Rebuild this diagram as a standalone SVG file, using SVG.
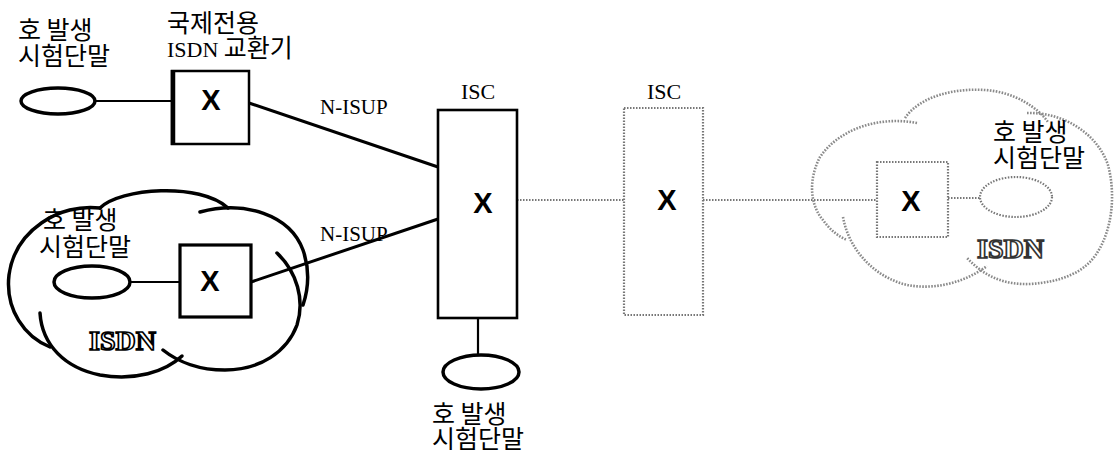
<svg xmlns="http://www.w3.org/2000/svg" width="1114" height="453" viewBox="0 0 1114 453">
<style>
.k{font-family:"Noto Sans CJK KR","Noto Sans",sans-serif;font-size:25px;fill:#000}
.s{font-family:"Liberation Serif","Times New Roman",serif;font-size:21px;fill:#000}
.x{font-family:"Liberation Sans",Arial,sans-serif;font-weight:bold;font-size:29px;text-anchor:middle;fill:#000}
.isdn{font-family:"Liberation Serif","Times New Roman",serif;font-weight:bold;font-size:28px;fill:#fff;stroke:#000;stroke-width:1.7}
.solid{fill:none;stroke:#000}
.dot{fill:none;stroke:#777;stroke-width:2.2;stroke-dasharray:1.5 1.5}
.cloud{fill:none;stroke:#000;stroke-width:3.5;stroke-linecap:round}
.dcloud{fill:none;stroke:#8a8a8a;stroke-width:2.6;stroke-dasharray:1.6 1.4;stroke-linecap:butt}
</style>
<rect width="1114" height="453" fill="#fff"/>

<g id="cloud-left">
<path class="cloud" d="M100,208 C60,203 15,230 9,275 C5,310 25,337 50,347"/>
<path class="cloud" d="M100,208 C120,188 200,182 228,208"/>
<path class="cloud" d="M200,212 C245,200 290,215 303,250 C310,270 308,290 303,305"/>
<path class="cloud" d="M277,253 C297,272 305,300 297,325 C287,352 260,370 225,370 C200,370 178,362 163,350"/>
<path class="cloud" d="M40,313 C42,345 65,368 100,375 C135,381 165,372 182,356"/>
<text class="isdn" x="89" y="350">ISDN</text>
</g>

<g id="cloud-right">
<path class="dcloud" d="M917,123 C880,116 840,128 820,157 C808,180 810,205 823,220 C830,230 838,236 847,240"/>
<path class="dcloud" d="M905,118 C920,96 955,88 985,90 C1015,92 1038,108 1048,122"/>
<path class="dcloud" d="M1027,113 C1065,112 1098,135 1108,165 C1116,195 1112,230 1097,253 C1085,272 1062,282 1030,284 C1005,285 985,277 967,258"/>
<path class="dcloud" d="M843,217 C848,245 868,272 900,283 C925,291 960,286 987,266"/>
<text class="isdn" x="977" y="258" style="stroke:#333">ISDN</text>
</g>

<g id="connectors">
<line class="solid" x1="96" y1="101" x2="172" y2="101" stroke-width="2"/>
<line class="solid" x1="249" y1="103" x2="438" y2="167" stroke-width="3"/>
<line class="solid" x1="130" y1="282" x2="180" y2="282" stroke-width="2"/>
<line class="solid" x1="251" y1="282" x2="438" y2="219" stroke-width="3"/>
<line class="solid" x1="478" y1="318" x2="478" y2="356" stroke-width="2.2"/>
<line class="dot" x1="517" y1="200" x2="624" y2="200"/>
<line class="dot" x1="703" y1="200" x2="877" y2="200"/>
<line class="dot" x1="948" y1="198" x2="980" y2="198"/>
<text class="s" x="320" y="114">N-ISUP</text>
<text class="s" x="320" y="241">N-ISUP</text>
</g>

<g id="term-topleft">
<ellipse class="solid" cx="58" cy="101" rx="37" ry="13" stroke-width="3.5"/>
<text class="k"><tspan x="18" y="39">호 발생</tspan><tspan x="18" y="65">시험단말</tspan></text>
</g>

<g id="switch-intl">
<rect class="solid" x="172" y="71" width="77" height="73" stroke-width="2.5"/>
<line class="solid" x1="173" y1="70" x2="173" y2="145" stroke-width="4.5"/>
<text class="x" x="211" y="110">X</text>
<text class="k"><tspan x="167" y="32">국제전용</tspan><tspan x="167" y="57" class="s" style="font-size:22px">ISDN </tspan><tspan y="57">교환기</tspan></text>
</g>

<g id="term-cloudleft">
<ellipse class="solid" cx="92" cy="282" rx="38" ry="16" stroke-width="3.5"/>
<text class="k"><tspan x="43" y="229">호 발생</tspan><tspan x="39" y="256">시험단말</tspan></text>
</g>

<g id="switch-cloudleft">
<rect class="solid" x="180" y="245" width="71" height="72" stroke-width="3.2"/>
<text class="x" x="210" y="291">X</text>
</g>

<g id="isc1">
<rect class="solid" x="438" y="110" width="79" height="208" stroke-width="2.6"/>
<text class="x" x="483" y="213">X</text>
<text class="s" x="478" y="99" text-anchor="middle" style="font-size:22px">ISC</text>
</g>

<g id="term-bottom">
<ellipse class="solid" cx="481" cy="372" rx="38" ry="17" stroke-width="3.5"/>
<text class="k"><tspan x="432" y="423">호 발생</tspan><tspan x="432" y="448">시험단말</tspan></text>
</g>

<g id="isc2">
<rect class="dot" x="624" y="108" width="79" height="207"/>
<text class="x" x="667" y="210">X</text>
<text class="s" x="664" y="99" text-anchor="middle" style="font-size:22px">ISC</text>
</g>

<g id="switch-right">
<rect class="dot" x="877" y="162" width="71" height="75"/>
<text class="x" x="911" y="211">X</text>
</g>

<g id="term-right">
<ellipse class="dot" cx="1016" cy="197" rx="36" ry="20"/>
<text class="k"><tspan x="993" y="141">호 발생</tspan><tspan x="993" y="167">시험단말</tspan></text>
</g>
</svg>
